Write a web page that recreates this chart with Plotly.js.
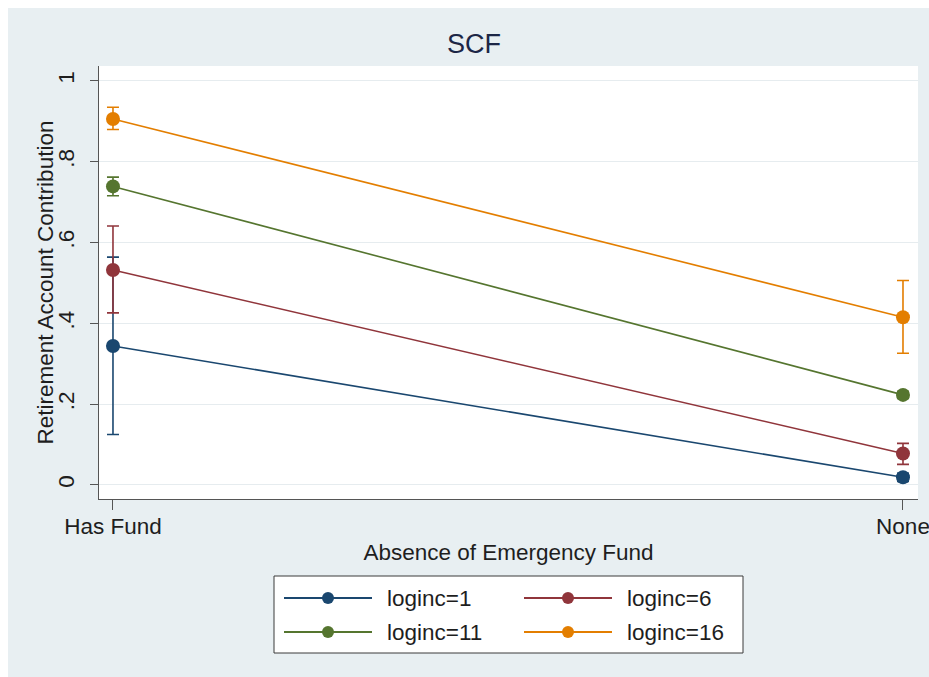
<!DOCTYPE html>
<html>
<head>
<meta charset="utf-8">
<script src="https://cdn.plot.ly/plotly-3.0.1.min.js"></script>
<style>
  html, body { margin: 0; padding: 0; background: #ffffff; }
  #chart { position: absolute; left: 8px; top: 8px; width: 921px; height: 669px; }
</style>
</head>
<body>
<div id="chart"></div>
<script>
// Predicted retirement account contribution by emergency-fund status (SCF)
const categories = ['Has Fund', 'None'];
const seriesNames = ['loginc=1', 'loginc=6', 'loginc=11', 'loginc=16'];
const seriesColors = ['#1a476f', '#90353b', '#55752f', '#e37e00'];

// point estimates and 95% CI bounds, one value per category
const mean1 = [0.344, 0.019];
const lo1   = [0.125, 0.009];
const hi1   = [0.564, 0.029];

const mean6 = [0.532, 0.078];
const lo6   = [0.426, 0.051];
const hi6   = [0.641, 0.103];

const mean11 = [0.739, 0.223];
const lo11   = [0.716, 0.214];
const hi11   = [0.762, 0.232];

const mean16 = [0.906, 0.415];
const lo16   = [0.880, 0.326];
const hi16   = [0.935, 0.506];

const yTickVals = [0, 0.2, 0.4, 0.6, 0.8, 1];
const yTickText = ['0', '.2', '.4', '.6', '.8', '1'];

const means = [mean1, mean6, mean11, mean16];
const los = [lo1, lo6, lo11, lo16];
const his = [hi1, hi6, hi11, hi16];

const FONT = 'Liberation Sans, Arial, Helvetica, sans-serif';
const TXT = '#1e1e1e';
const FS = 22.5;

const traces = means.map((m, i) => ({
  type: 'scatter',
  mode: 'lines+markers',
  name: seriesNames[i],
  x: categories,
  y: m,
  line: { color: seriesColors[i], width: 1.6 },
  marker: { color: seriesColors[i], size: 14, symbol: 'circle' },
  error_y: {
    type: 'data',
    symmetric: false,
    array: his[i].map((h, k) => h - m[k]),
    arrayminus: los[i].map((l, k) => m[k] - l),
    color: seriesColors[i],
    thickness: 1.6,
    width: 6
  },
  showlegend: false,
  hoverinfo: 'x+y+name'
}));

// plot-area geometry (pixels inside the chart div)
const L = 91, T = 58, W = 819, H = 433;
const px = v => (v - L) / W;
const py = v => (T + H - v) / H;

// boxed two-column key below the axes
const shapes = [{
  type: 'rect', xref: 'paper', yref: 'paper',
  x0: px(266), x1: px(735), y0: py(645), y1: py(568),
  line: { color: '#3a3a3a', width: 1 }, fillcolor: '#ffffff', layer: 'below'
}];
const annotations = [];
const colX = [276, 516];
const rowY = [590, 624];
seriesNames.forEach((name, i) => {
  const cx = colX[i % 2], cy = rowY[Math.floor(i / 2)];
  shapes.push({
    type: 'line', xref: 'paper', yref: 'paper',
    x0: px(cx), x1: px(cx + 88), y0: py(cy), y1: py(cy),
    line: { color: seriesColors[i], width: 1.8 }
  });
  shapes.push({
    type: 'circle', xref: 'paper', yref: 'paper',
    xsizemode: 'pixel', ysizemode: 'pixel',
    xanchor: px(cx + 44), yanchor: py(cy),
    x0: -6, x1: 6, y0: -6, y1: 6,
    line: { color: seriesColors[i], width: 0 }, fillcolor: seriesColors[i]
  });
  annotations.push({
    xref: 'paper', yref: 'paper',
    x: px(cx + 101), y: py(cy),
    xanchor: 'left', yanchor: 'middle',
    text: name, showarrow: false,
    font: { family: FONT, size: FS, color: TXT }
  });
});

// vertical axis title, set a little closer to the tick labels
annotations.push({
  xref: 'paper', yref: 'paper',
  x: px(37), y: 0.5,
  xanchor: 'center', yanchor: 'middle',
  textangle: -90,
  text: 'Retirement Account Contribution', showarrow: false,
  font: { family: FONT, size: FS, color: TXT }
});

const layout = {
  width: 921, height: 669,
  margin: { l: L, r: 921 - L - W, t: T, b: 669 - T - H },
  paper_bgcolor: '#e8eff2',
  plot_bgcolor: '#ffffff',
  font: { family: FONT, color: TXT, size: FS },
  title: {
    text: 'SCF',
    font: { family: FONT, size: 27, color: '#1c2646' },
    xref: 'container', x: 466 / 921, xanchor: 'center',
    yref: 'container', y: 1 - 36 / 669, yanchor: 'middle'
  },
  xaxis: {
    type: 'category',
    range: [-0.0177, 1.019],
    showgrid: false,
    zeroline: false,
    showline: true, linecolor: '#555555', linewidth: 1,
    ticks: 'outside', ticklen: 10, tickcolor: '#555555', tickwidth: 1,
    ticklabelstandoff: -3,
    tickfont: { family: FONT, size: FS, color: TXT },
    title: { text: 'Absence of Emergency Fund', font: { family: FONT, size: FS, color: TXT }, standoff: 6 },
    fixedrange: true
  },
  yaxis: {
    range: [-0.0347, 1.037],
    tickvals: yTickVals, ticktext: yTickText,
    tickangle: -90,
    showgrid: true, gridcolor: '#e6ecef', gridwidth: 1,
    zeroline: false,
    showline: true, linecolor: '#555555', linewidth: 1,
    ticks: 'outside', ticklen: 8, tickcolor: '#555555', tickwidth: 1,
    ticklabelstandoff: 7,
    tickfont: { family: FONT, size: FS, color: TXT },
    fixedrange: true
  },
  shapes: shapes,
  annotations: annotations,
  showlegend: false
};

Plotly.newPlot('chart', traces, layout, { displayModeBar: false, staticPlot: true });
</script>
</body>
</html>
